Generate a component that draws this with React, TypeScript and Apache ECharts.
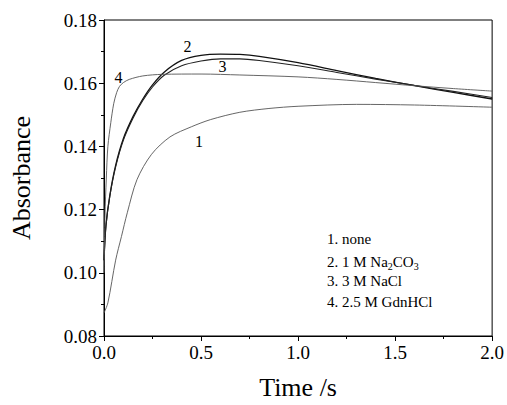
import React, { useEffect, useRef } from "react";
import * as echarts from "echarts";

const t1 = [0, 0.02, 0.06, 0.09, 0.12, 0.17, 0.245, 0.34, 0.45, 0.55, 0.7, 0.85, 1.0, 1.3, 1.6, 2.0];
const a1 = [0.0873, 0.0905, 0.104, 0.1115, 0.119, 0.1295, 0.1375, 0.143, 0.1462, 0.1485, 0.1508, 0.152, 0.1527, 0.1533, 0.1531, 0.1524];

const t2 = [0, 0.01, 0.03, 0.06, 0.1, 0.15, 0.2, 0.25, 0.31, 0.4, 0.5, 0.6, 0.7, 0.8, 1.0, 1.2, 1.4, 1.6, 1.8, 2.0];
const a2 = [0.104, 0.115, 0.1245, 0.134, 0.1425, 0.1495, 0.155, 0.1595, 0.1635, 0.1672, 0.1688, 0.1692, 0.1691, 0.1685, 0.1665, 0.164, 0.1615, 0.1592, 0.1571, 0.155];

const t3 = [0, 0.01, 0.03, 0.06, 0.1, 0.15, 0.2, 0.25, 0.31, 0.4, 0.5, 0.6, 0.7, 0.8, 1.0, 1.2, 1.4, 1.6, 1.8, 2.0];
const a3 = [0.104, 0.1148, 0.1242, 0.1335, 0.142, 0.149, 0.1545, 0.1588, 0.1625, 0.1655, 0.167, 0.1677, 0.1677, 0.1672, 0.1655, 0.1634, 0.1613, 0.1593, 0.1574, 0.1555];

const t4 = [0, 0.005, 0.012, 0.02, 0.035, 0.05, 0.065, 0.08, 0.1, 0.13, 0.2, 0.3, 0.5, 0.7, 1.0, 1.2, 1.4, 1.6, 1.8, 2.0];
const a4 = [0.1, 0.118, 0.13, 0.14, 0.1475, 0.1535, 0.157, 0.159, 0.1602, 0.1612, 0.1623, 0.1628, 0.1629, 0.1626, 0.162, 0.1612, 0.1602, 0.1592, 0.1583, 0.1575];

const curveNames = ["1", "2", "3", "4"];
const labelTimes = [0.49, 0.43, 0.61, 0.075];
const labelValues = [0.1415, 0.1715, 0.1652, 0.1617];

const legendLines = [
  "1. none",
  "2. 1 M Na{s|2}CO{s|3}",
  "3. 3 M NaCl",
  "4. 2.5 M GdnHCl",
];

const xTicks = { min: 0, max: 2, interval: 0.5 };
const yTicks = { min: 0.08, max: 0.18, interval: 0.02 };

const FONT = "Liberation Serif, Times New Roman, serif";

function pairs(t: number[], a: number[]) {
  return t.map((x, i) => [x, a[i]]);
}

export default function App() {
  const ref = useRef<HTMLDivElement>(null);
  useEffect(() => {
    document.body.style.margin = "0";
    if (!ref.current) return;
    const chart = echarts.init(ref.current, null, { renderer: "svg" });
    const seriesStyle = [
      { color: "#555", width: 0.9 },
      { color: "#111", width: 1.3 },
      { color: "#222", width: 1.1 },
      { color: "#555", width: 0.9 },
    ];
    const datasets = [pairs(t1, a1), pairs(t2, a2), pairs(t3, a3), pairs(t4, a4)];
    chart.setOption({
      animation: false,
      grid: { left: 100, right: 11, top: 20, bottom: 68, show: true, borderColor: "#000", borderWidth: 1 },
      xAxis: {
        type: "value",
        min: xTicks.min,
        max: xTicks.max,
        interval: xTicks.interval,
        name: "Time /s",
        nameLocation: "middle",
        nameGap: 38,
        nameTextStyle: { fontFamily: FONT, fontSize: 26, color: "#000" },
        axisLine: { show: true, onZero: false, lineStyle: { color: "#000", width: 1 } },
        axisTick: { show: true, inside: false, length: 5, lineStyle: { color: "#000" } },
        minorTick: { show: true, splitNumber: 2, length: 3, lineStyle: { color: "#000" } },
        axisLabel: { formatter: (v: number) => v.toFixed(1), fontFamily: FONT, fontSize: 19, color: "#000", margin: 7 },
        splitLine: { show: false },
      },
      yAxis: {
        type: "value",
        min: yTicks.min,
        max: yTicks.max,
        interval: yTicks.interval,
        name: "Absorbance",
        nameLocation: "middle",
        nameGap: 70,
        nameTextStyle: { fontFamily: FONT, fontSize: 26, color: "#000" },
        axisLine: { show: true, onZero: false, lineStyle: { color: "#000", width: 1 } },
        axisTick: { show: true, inside: false, length: 5, lineStyle: { color: "#000" } },
        minorTick: { show: true, splitNumber: 2, length: 3, lineStyle: { color: "#000" } },
        axisLabel: { formatter: (v: number) => v.toFixed(2), fontFamily: FONT, fontSize: 19, color: "#000", margin: 7 },
        splitLine: { show: false },
      },
      series: datasets.map((d, i) => ({
        type: "line",
        name: curveNames[i],
        data: d,
        smooth: 0.3,
        showSymbol: false,
        lineStyle: seriesStyle[i],
        z: 2 + i,
      })),
      graphic: [],
    });
    const labels = curveNames.map((n, i) => {
      const p = chart.convertToPixel({ gridIndex: 0 }, [labelTimes[i], labelValues[i]]) as number[];
      return {
        type: "text",
        x: p[0],
        y: p[1],
        style: { text: n, fontFamily: FONT, fontSize: 16, fill: "#000", align: "center", verticalAlign: "middle" },
      };
    });
    const legend = {
      type: "group",
      left: 327,
      top: 231,
      children: legendLines.map((s, i) => ({
        type: "text",
        x: 0,
        y: i * 21,
        style: {
          text: s,
          fontFamily: FONT,
          fontSize: 15,
          fill: "#000",
          rich: { s: { fontFamily: FONT, fontSize: 10, fill: "#000", padding: [9, 0, 0, 0] } },
        },
      })),
    };
    chart.setOption({ graphic: [...labels, legend] });
    return () => chart.dispose();
  }, []);
  return <div ref={ref} style={{ width: 507, height: 405 }} />;
}
